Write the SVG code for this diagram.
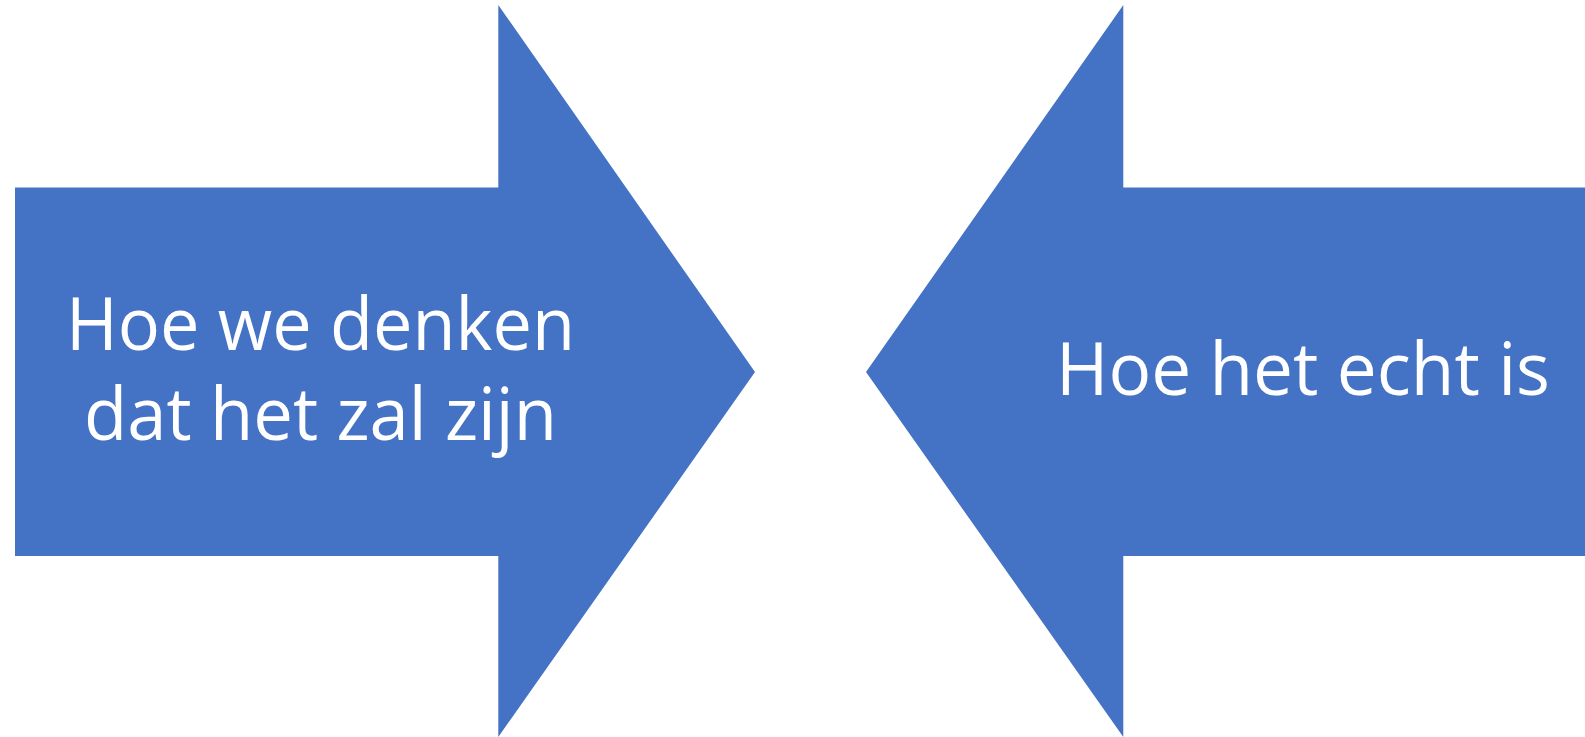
<svg xmlns="http://www.w3.org/2000/svg" width="1585" height="737" viewBox="0 0 1585 737">
  <style>
    .arrow { fill: #4472C4; }
    .label { fill: #FFFFFF; font-family: "Open Sans", "Noto Sans", "Liberation Sans", sans-serif; font-size: 74px; text-anchor: middle; }
  </style>
  <rect width="1585" height="737" fill="#FFFFFF"/>
  <g id="arrow-expectation">
    <polygon class="arrow" points="15,187.5 498.3,187.5 498.3,5 755,372 498.3,737 498.3,556 15,556"/>
    <text class="label" x="320.5" y="350" textLength="509" lengthAdjust="spacingAndGlyphs">Hoe we denken</text>
    <text class="label" x="320.5" y="440" textLength="473" lengthAdjust="spacingAndGlyphs">dat het zal zijn</text>
  </g>
  <g id="arrow-reality">
    <polygon class="arrow" points="1585,187.5 1123.3,187.5 1123.3,5 866,372 1123.3,737 1123.3,556 1585,556"/>
    <text class="label" x="1303" y="395" textLength="494" lengthAdjust="spacingAndGlyphs">Hoe het echt is</text>
  </g>
  <g id="connectors"/>
</svg>
